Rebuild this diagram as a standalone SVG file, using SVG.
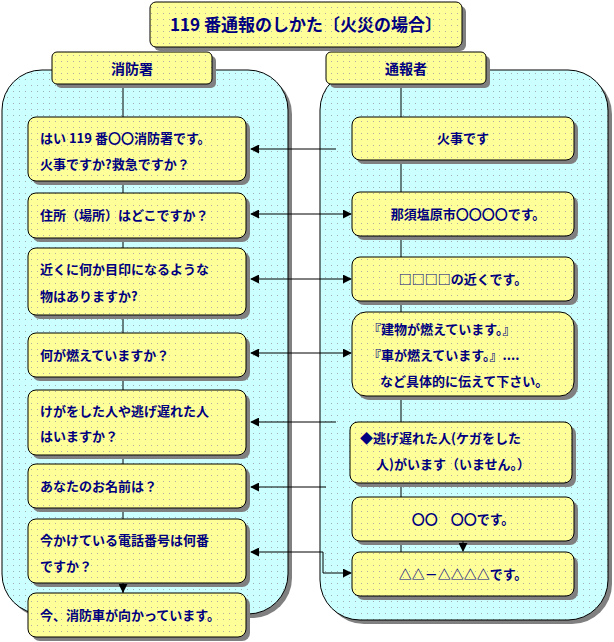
<svg xmlns="http://www.w3.org/2000/svg" width="614" height="642" viewBox="0 0 614 642">
<defs>
<pattern id="dy" width="6" height="6" patternUnits="userSpaceOnUse"><rect width="6" height="6" fill="#FFFF99"/><rect x="1" y="1" width="1" height="1" fill="#B0B0A0"/></pattern>
<pattern id="dc" width="6" height="6" patternUnits="userSpaceOnUse"><rect width="6" height="6" fill="#CCFFFF"/><rect x="1" y="1" width="1" height="1" fill="#A0B0B0"/></pattern>
<marker id="ah" viewBox="0 0 10 10" refX="9" refY="5" markerWidth="9" markerHeight="9" orient="auto-start-reverse" markerUnits="userSpaceOnUse"><path d="M0,0 L10,5 L0,10 z" fill="#000"/></marker>
</defs>
<style>
.sh{fill:#808080}
.b{fill:url(#dy);stroke:#000;stroke-width:1}
.p{fill:url(#dc);stroke:#000;stroke-width:1}
text{font-family:"Noto Sans CJK JP","Liberation Sans",sans-serif;font-size:13px;fill:#000080;font-weight:bold}
.c{text-anchor:middle}
.ln{stroke:#000;stroke-width:1;fill:none}
</style>
<g id="panels">
<rect class="sh" x="6" y="74" width="286" height="544" rx="40"/>
<rect class="p" x="2" y="70" width="286" height="544" rx="40"/>
<rect class="sh" x="324" y="74" width="288" height="550" rx="40"/>
<rect class="p" x="320" y="70" width="288" height="550" rx="40"/>
<line class="ln" x1="123" y1="84" x2="123" y2="593"/>
<line class="ln" x1="401" y1="84" x2="401" y2="552"/>
</g>
<g id="title"><rect class="sh" x="154" y="6" width="312" height="45" rx="6"/><rect class="b" x="150" y="2" width="312" height="45" rx="6"/><text class="c" x="306" y="31" style="font-size:17px">119 番通報のしかた〔火災の場合〕</text></g>
<g id="h1"><rect class="sh" x="56" y="56" width="160" height="32" rx="5"/><rect class="b" x="52" y="52" width="160" height="32" rx="5"/><text class="c" x="132" y="74" style="font-size:14px">消防署</text></g>
<g id="h2"><rect class="sh" x="330" y="56" width="160" height="32" rx="5"/><rect class="b" x="326" y="52" width="160" height="32" rx="5"/><text class="c" x="406" y="74" style="font-size:14px">通報者</text></g>
<g id="l1"><rect class="sh" x="32" y="121" width="218" height="64" rx="8"/><rect class="b" x="28" y="117" width="218" height="64" rx="8"/><text x="40" y="143">はい 119 番〇〇消防署です。</text><text x="40" y="169">火事ですか?救急ですか？</text></g>
<g id="l2"><rect class="sh" x="32" y="197" width="218" height="45" rx="8"/><rect class="b" x="28" y="193" width="218" height="45" rx="8"/><text x="40" y="220">住所（場所）はどこですか？</text></g>
<g id="l3"><rect class="sh" x="32" y="252" width="218" height="67" rx="8"/><rect class="b" x="28" y="248" width="218" height="67" rx="8"/><text x="40" y="274">近くに何か目印になるような</text><text x="40" y="301">物はありますか?</text></g>
<g id="l4"><rect class="sh" x="32" y="337" width="218" height="44" rx="8"/><rect class="b" x="28" y="333" width="218" height="44" rx="8"/><text x="40" y="360">何が燃えていますか？</text></g>
<g id="l5"><rect class="sh" x="32" y="394" width="218" height="65" rx="8"/><rect class="b" x="28" y="390" width="218" height="65" rx="8"/><text x="40" y="416">けがをした人や逃げ遅れた人</text><text x="40" y="441">はいますか？</text></g>
<g id="l6"><rect class="sh" x="32" y="468" width="218" height="44" rx="8"/><rect class="b" x="28" y="464" width="218" height="44" rx="8"/><text x="40" y="491">あなたのお名前は？</text></g>
<g id="l7"><rect class="sh" x="32" y="523" width="218" height="64" rx="8"/><rect class="b" x="28" y="519" width="218" height="64" rx="8"/><text x="40" y="545">今かけている電話番号は何番</text><text x="40" y="571">ですか？</text></g>
<g id="l8"><rect class="sh" x="32" y="597" width="218" height="44" rx="8"/><rect class="b" x="28" y="593" width="218" height="44" rx="8"/><text x="40" y="620">今、消防車が向かっています。</text></g>
<g id="r1"><rect class="sh" x="356" y="121" width="222" height="43" rx="8"/><rect class="b" x="352" y="117" width="222" height="43" rx="8"/><text class="c" x="463" y="143">火事です</text></g>
<g id="r2"><rect class="sh" x="356" y="196" width="222" height="44" rx="8"/><rect class="b" x="352" y="192" width="222" height="44" rx="8"/><text class="c" x="468" y="219">那須塩原市〇〇〇〇です。</text></g>
<g id="r3"><rect class="sh" x="356" y="261" width="222" height="44" rx="8"/><rect class="b" x="352" y="257" width="222" height="44" rx="8"/><text class="c" x="463" y="284">□□□□の近くです。</text></g>
<g id="r4"><rect class="sh" x="356" y="316" width="222" height="84" rx="14"/><rect class="b" x="352" y="312" width="222" height="84" rx="14"/><text x="368" y="334">『建物が燃えています。』</text><text x="368" y="360">『車が燃えています。』....</text><text x="380" y="386">など具体的に伝えて下さい。</text></g>
<g id="r5"><rect class="sh" x="354" y="426" width="222" height="61" rx="8"/><rect class="b" x="350" y="422" width="222" height="61" rx="8"/><text x="360" y="443">◆逃げ遅れた人(ケガをした</text><text x="376" y="469">人)がいます（いません。）</text></g>
<g id="r6"><rect class="sh" x="356" y="501" width="222" height="44" rx="8"/><rect class="b" x="352" y="497" width="222" height="44" rx="8"/><text class="c" x="463" y="524">〇〇　〇〇です。</text></g>
<g id="r7"><rect class="sh" x="356" y="556" width="222" height="44" rx="8"/><rect class="b" x="352" y="552" width="222" height="44" rx="8"/><text class="c" x="463" y="579">△△－△△△△です。</text></g>
<g id="connectors">
<line class="ln" x1="336" y1="149" x2="251" y2="149" marker-end="url(#ah)"/>
<line class="ln" x1="251" y1="214" x2="351" y2="214" marker-start="url(#ah)" marker-end="url(#ah)"/>
<line class="ln" x1="251" y1="279" x2="351" y2="279" marker-start="url(#ah)" marker-end="url(#ah)"/>
<line class="ln" x1="251" y1="353" x2="351" y2="353" marker-start="url(#ah)" marker-end="url(#ah)"/>
<line class="ln" x1="336" y1="422" x2="251" y2="422" marker-end="url(#ah)"/>
<line class="ln" x1="326" y1="487" x2="251" y2="487" marker-end="url(#ah)"/>
<polyline class="ln" points="323,552 323,573 351,573" marker-end="url(#ah)"/>
<line class="ln" x1="323" y1="552" x2="251" y2="552" marker-end="url(#ah)"/>
<line class="ln" x1="123" y1="583" x2="123" y2="592" marker-end="url(#ah)"/>
<line class="ln" x1="463" y1="541" x2="463" y2="551" marker-end="url(#ah)"/>
</g>
</svg>
